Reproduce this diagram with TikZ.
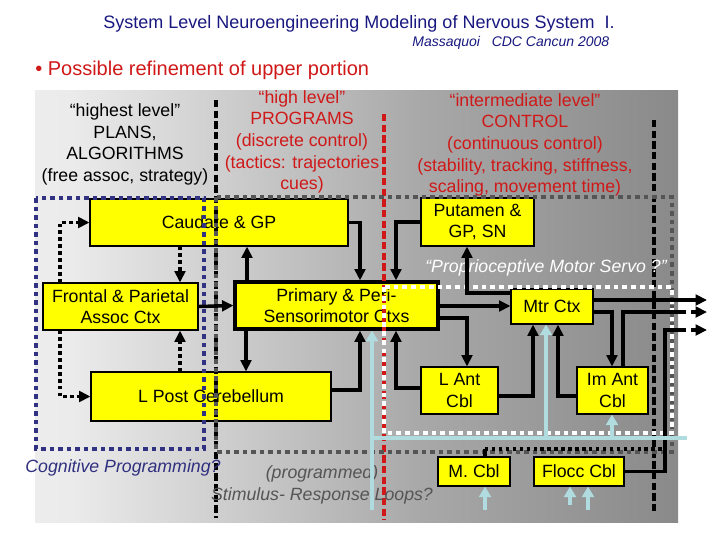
\documentclass[tikz,border=0pt]{standalone}
\usepackage{fontspec}
\setmainfont{Liberation Sans}
\usetikzlibrary{arrows.meta}
\definecolor{titleblue}{RGB}{24,24,128}
\definecolor{hdrred}{RGB}{208,24,24}
\definecolor{cogblue}{RGB}{48,48,128}
\definecolor{guidenavy}{RGB}{50,50,130}
\definecolor{guidegray}{RGB}{85,85,85}
\definecolor{servoblue}{RGB}{176,220,224}
\definecolor{boxyellow}{RGB}{255,255,0}
\pgfdeclarehorizontalshading{bgshade}{100bp}{color(0bp)=(white); color(28bp)=(white!92!black); color(55bp)=(white!66!black); color(75bp)=(white!54!black); color(100bp)=(white!48!black)}
\newcommand{\bodysize}{\fontsize{13.3}{16.2}\selectfont}

\begin{document}
\begin{tikzpicture}[x=0.75pt, y=-0.75pt,
  box/.style={draw, fill=boxyellow, line width=0.8pt, inner sep=0pt, align=center, font=\bodysize},
  header/.style={align=center, font=\bodysize},
  conn/.style={line width=2.6pt, -{Triangle[length=8.5pt,width=8pt]}},
  dotconn/.style={conn, dash pattern=on 2.6pt off 2.6pt},
  blueconn/.style={servoblue, line width=3pt, -{Triangle[length=8pt,width=9pt]}},
  navyguide/.style={guidenavy, line width=3.4pt, dash pattern=on 3.4pt off 3pt},
  grayguide/.style={guidegray, line width=3.4pt, dash pattern=on 3.4pt off 3pt},
  whiteguide/.style={white, line width=3.2pt, dash pattern=on 3.6pt off 3pt},
  blackdash/.style={line width=2.4pt, dash pattern=on 5.5pt off 2.5pt},
  reddash/.style={blackdash, hdrred}]
\useasboundingbox (0,0) rectangle (720,540);
%\draw[help lines, step=20] (0,0) grid (720,540);
\shade[shading=bgshade] (35,90) rectangle (678,522);

% titles
\node[font=\fontsize{13.5}{15}\selectfont, text=titleblue] (title) at (359,24) {System Level Neuroengineering Modeling of Nervous System~~I.};
\node[anchor=east, font=\fontsize{10.5}{12}\selectfont\itshape, text=titleblue] (author) at (614,43) {Massaquoi~~~CDC Cancun 2008};
\node[anchor=west, inner sep=0pt, font=\fontsize{15}{17}\selectfont, text=hdrred] (bullet) at (35,70) {• Possible refinement of upper portion};

% column headers
\node[header] (highest) at (125,144.5) {“highest level”\\PLANS,\\ALGORITHMS\\(free assoc, strategy)};
\node[header, text=hdrred] (high) at (302,142) {“high level”\\PROGRAMS\\(discrete control)\\(tactics: trajectories\\cues)};
\node[header, text=hdrred] (intermediate) at (525,145) {“intermediate level”\\CONTROL\\(continuous control)\\(stability, tracking, stiffness,\\scaling, movement time)};

% blocks
\node[box, minimum width=193.5pt, minimum height=35.25pt] (caudate) at (219,222.5) {Caudate \& GP};
\node[box, minimum width=84.75pt, minimum height=36pt] (putamen) at (477.5,222) {Putamen \&\\GP, SN};
\node[box, minimum width=116.25pt, minimum height=35.25pt] (frontal) at (120.5,306.5) {Frontal \& Parietal\\Assoc Ctx};
\node[box, line width=2.4pt, minimum width=152.25pt, minimum height=35.25pt] (primary) at (336.5,305.5) {Primary \& Peri-\\Sensorimotor Ctxs};
\node[box, minimum width=180pt, minimum height=36.75pt] (lpost) at (211,396.5) {L Post Cerebellum};
\node[box, minimum width=61.5pt, minimum height=26.25pt] (mtr) at (552,306.5) {Mtr Ctx};
\node[box, minimum width=57.75pt, minimum height=35.25pt] (lant) at (459.5,390.5) {L Ant\\Cbl};
\node[box, minimum width=53.25pt, minimum height=35.25pt] (imant) at (612.5,390.5) {Im Ant\\Cbl};
\node[box, minimum width=54pt, minimum height=21.75pt] (mcbl) at (474,471.5) {M. Cbl};
\node[box, minimum width=67.5pt, minimum height=21.75pt] (flocc) at (579,471.5) {Flocc Cbl};

% level borders
\draw[blackdash] (216,100) -- (216,518);
\draw[reddash] (384,114) -- (384,520);
\draw[blackdash] (654,120) -- (654,513);
\draw[navyguide] (36,198) rectangle (204,449);
\draw[grayguide] (216,197) rectangle (672,452);
\draw[whiteguide] (384,287) rectangle (672,433);

\node[font=\bodysize\itshape, text=white] (servo) at (546,268) {“Proprioceptive Motor Servo ?”};
\node[font=\bodysize\itshape, text=cogblue] (cogprog) at (123,468) {Cognitive Programming?};
\node[align=center, font=\bodysize\itshape, text=guidegray] (srloops) at (322,485) {(programmed)\\Stimulus- Response Loops?};

% cognitive loops
\draw[dotconn] (frontal.north -| 60,0) |- (caudate.west);
\draw[dotconn] (frontal.south -| 60,0) |- (lpost.west);
\draw[dotconn] (caudate.south -| 180,0) -- (frontal.north -| 180,0);
\draw[dotconn] (lpost.north -| 180,0) -- (frontal.south -| 180,0);
\draw[conn] (frontal.east) -- (primary.west);

% sensorimotor loops
\draw[conn] (caudate.east) -| (primary.north -| 360,0);
\draw[conn] (primary.north -| 247,0) -- (caudate.south -| 247,0);
\draw[conn] (primary.south -| 246,0) -- (lpost.north -| 246,0);
\draw[conn] (putamen.west) -| (primary.north -| 396,0);
\draw[conn] (mtr.west |- 0,293) -| (putamen.south -| 467,0);
\draw[conn] (primary.east |- 0,306) -- (mtr.west |- 0,306);
\draw[conn] (primary.east |- 0,318) -| (lant.north -| 467,0);
\draw[conn] (lant.west |- 0,388) -| (primary.south -| 396,0);
\draw[conn] (lpost.east |- 0,390) -| (primary.south -| 360,0);
\draw[conn] (lant.east |- 0,396) -| (mtr.south -| 533,0);
\draw[conn] (imant.west |- 0,396) -| (mtr.south -| 558,0);
\draw[conn] (mtr.east |- 0,312) -| (imant.north -| 612,0);

% outputs
\coordinate (out1) at (707,300);
\coordinate (edge2) at (674,312);
\coordinate (out2) at (707,312);
\coordinate (edge3) at (674,330);
\coordinate (out3) at (707,330);
\draw[conn] (mtr.east |- out1) -- (out1);
\draw[line width=2.6pt] (imant.north -| 623,0) |- (edge2);
\draw[conn, dash pattern=on 9pt off 4pt] (edge2) -- (out2);
\draw[line width=2.6pt] (flocc.east) -| (665,330) -- (edge3);
\draw[conn, dash pattern=on 9pt off 4pt] (edge3) -- (out3);
\draw[line width=2.6pt] (mcbl.north -| 485,0) -- (485,449);
\draw[line width=2.6pt, dash pattern=on 2.6pt off 2.6pt] (485,449) -- (667,449);

% proprioceptive feedback
\draw[servoblue, line width=3pt] (372,438) -- (687,438);
\draw[blueconn] (372,510) -- (primary.south -| 372,0);
\draw[blueconn] (546,438) -- (mtr.south -| 546,0);
\draw[blueconn] (612,438) -- (imant.south -| 612,0);
\draw[blueconn] (485,510) -- (mcbl.south -| 485,0);
\draw[blueconn] (570,505) -- (flocc.south -| 570,0);
\draw[blueconn] (588,510) -- (flocc.south -| 588,0);
\end{tikzpicture}
\end{document}
